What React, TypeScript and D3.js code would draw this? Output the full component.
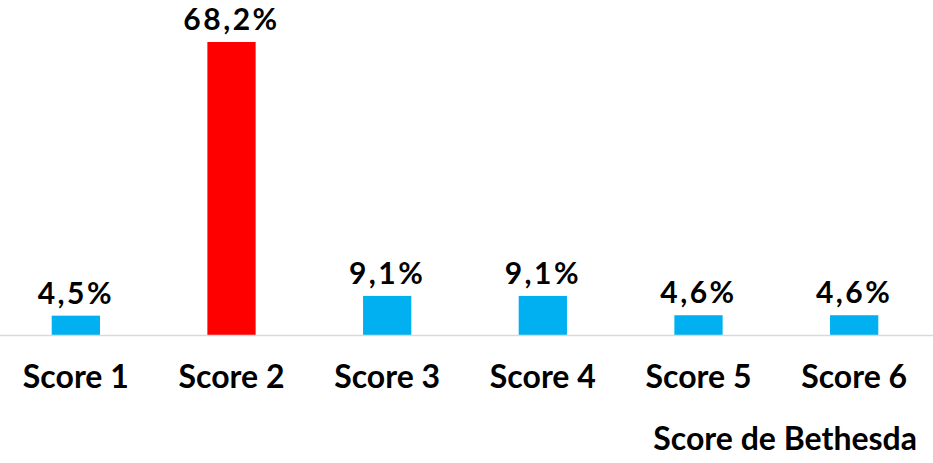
import { useEffect, useRef } from "react";
import * as d3 from "d3";

const categories = ["Score 1", "Score 2", "Score 3", "Score 4", "Score 5", "Score 6"];
const values = [4.5, 68.2, 9.1, 9.1, 4.6, 4.6];
const highlight = "Score 2";
const axisTitle = "Score de Bethesda";

const W = 933;
const H = 463;

export default function App() {
  const ref = useRef<SVGSVGElement | null>(null);

  useEffect(() => {
    const svg = d3.select(ref.current);
    svg.selectAll("*").remove();

    const baseline = 335;
    const x = d3.scaleBand<string>().domain(categories).range([-2, 932]).paddingInner(0.69).paddingOuter(0.345);
    const y = d3.scaleLinear().domain([0, 68.2]).range([baseline, 42]);

    const font = "Lato, 'Open Sans', sans-serif";

    svg
      .append("g")
      .selectAll("rect")
      .data(values)
      .join("rect")
      .attr("x", (_, i) => x(categories[i])!)
      .attr("y", (d) => y(d))
      .attr("width", x.bandwidth())
      .attr("height", (d) => baseline - y(d))
      .attr("fill", (_, i) => (categories[i] === highlight ? "#FF0000" : "#00B0F0"));

    svg
      .append("line")
      .attr("x1", 0)
      .attr("x2", W)
      .attr("y1", baseline + 0.5)
      .attr("y2", baseline + 0.5)
      .attr("stroke", "#d9d9d9")
      .attr("stroke-width", 1.5);

    // value labels
    svg
      .append("g")
      .selectAll("text")
      .data(values)
      .join("text")
      .attr("x", (_, i) => x(categories[i])! + x.bandwidth() / 2)
      .attr("y", (d) => y(d) - 12)
      .attr("text-anchor", "middle")
      .attr("font-family", font)
      .attr("font-weight", 700)
      .attr("font-size", 30)
      .attr("letter-spacing", "2.5px")
      .attr("fill", "#000")
      .text((d) => d.toFixed(1).replace(".", ",") + "%");

    // category labels
    svg
      .append("g")
      .selectAll("text")
      .data(categories)
      .join("text")
      .attr("x", (d) => x(d)! + x.bandwidth() / 2)
      .attr("y", 388)
      .attr("text-anchor", "middle")
      .attr("font-family", font)
      .attr("font-weight", 700)
      .attr("font-size", 32)
      .attr("fill", "#000")
      .text((d) => d);

    svg
      .append("text")
      .attr("x", 917)
      .attr("y", 450)
      .attr("text-anchor", "end")
      .attr("font-family", font)
      .attr("font-weight", 700)
      .attr("font-size", 32)
      .attr("fill", "#000")
      .text(axisTitle);
  }, []);

  return (
    <svg
      ref={ref}
      width={W}
      height={H}
      style={{ position: "absolute", left: 0, top: 0, background: "#fff" }}
    />
  );
}
